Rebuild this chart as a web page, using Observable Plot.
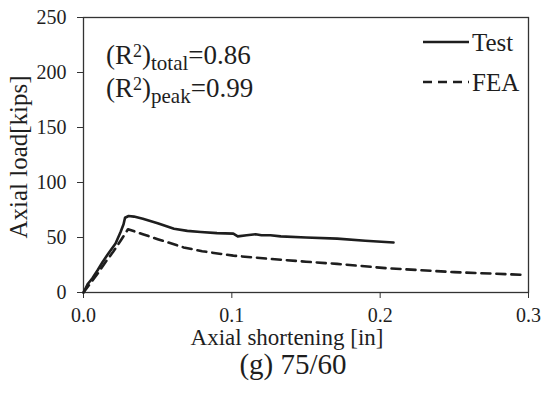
<!DOCTYPE html>
<html>
<head>
<meta charset="utf-8">
<script src="https://cdn.jsdelivr.net/npm/d3@7"></script>
<script src="https://cdn.jsdelivr.net/npm/@observablehq/plot@0.6"></script>
<style>
  html, body { margin: 0; padding: 0; background: #fff; }
  #chart { position: relative; width: 543px; height: 396px; }
</style>
</head>
<body>
<div id="chart"></div>
<script>
// Test curve (axial shortening [in], axial load [kips])
const testX = [0, 0.003, 0.006, 0.0094, 0.013, 0.017, 0.0216, 0.025, 0.027, 0.028, 0.0304, 0.034, 0.04, 0.05, 0.061, 0.07, 0.079, 0.09, 0.101, 0.104, 0.11, 0.116, 0.12, 0.126, 0.133, 0.15, 0.171, 0.19, 0.209];
const testY = [0, 8, 13, 20, 28, 36, 44.5, 55, 62, 68, 69.5, 69, 67, 63, 58, 56, 55, 54, 53.5, 51, 52, 53, 52, 52, 51, 50, 49, 47, 45.5];
// FEA curve
const feaX = [0, 0.005, 0.01, 0.015, 0.02, 0.025, 0.03, 0.04, 0.05, 0.0675, 0.08, 0.101, 0.126, 0.15, 0.171, 0.205, 0.25, 0.298];
const feaY = [0, 9, 18, 28, 37, 47, 57.5, 53, 48.5, 41, 37.5, 33.5, 30.5, 28, 26, 22, 18.5, 16];
// Ticks
const xTicks = [0, 0.1, 0.2, 0.3];
const yTicks = [0, 50, 100, 150, 200, 250];
const seriesNames = ["Test", "FEA"];
const r2Total = "0.86";
const r2Peak = "0.99";
const xLabel = "Axial shortening [in]";
const yLabel = "Axial load[kips]";
const caption = "(g) 75/60";

const test = testX.map((x, i) => ({x, y: testY[i]}));
const fea = feaX.map((x, i) => ({x, y: feaY[i]}));

const ink = "#1e1e1e";
const serif = "'Liberation Serif', 'DejaVu Serif', serif";

const plot = Plot.plot({
  width: 543,
  height: 396,
  marginLeft: 83,
  marginRight: 15,
  marginTop: 17,
  marginBottom: 104,
  style: {fontFamily: serif, color: ink, background: "#fff"},
  x: {domain: [0, 0.3]},
  y: {domain: [0, 250]},
  marks: [
    Plot.frame({stroke: "#333", strokeWidth: 1.3}),
    Plot.axisX({ticks: xTicks, tickFormat: d3.format(".1f"), tickSize: 6, tickPadding: 9, fontSize: 20, label: null, stroke: "#333"}),
    Plot.axisY({ticks: yTicks, tickFormat: d3.format("d"), tickSize: 6, tickPadding: 11, fontSize: 20, label: null, stroke: "#333"}),
    Plot.line(fea, {x: "x", y: "y", stroke: ink, strokeWidth: 2.6, strokeDasharray: "9,6"}),
    Plot.line(test, {x: "x", y: "y", stroke: ink, strokeWidth: 2.6}),
    Plot.text([xLabel], {text: d => d, frameAnchor: "bottom", textAnchor: "middle", dx: -19, dy: 52, fontSize: 23, fill: ink}),
    Plot.text([caption], {text: d => d, frameAnchor: "bottom", textAnchor: "middle", dx: -13, dy: 81, fontSize: 29, fill: ink}),
    Plot.text([yLabel], {text: d => d, frameAnchor: "left", textAnchor: "middle", dx: -65, dy: 2, rotate: -90, fontSize: 25, fill: ink})
  ]
});
document.getElementById("chart").appendChild(plot);

// Annotations and legend drawn into the same SVG
const svg = d3.select(plot);
const g = svg.append("g")
  .attr("fill", ink)
  .attr("font-family", serif)
  .attr("text-anchor", "start");

function r2Line(y, sub, val) {
  const t = g.append("text").attr("x", 106).attr("y", y)
    .attr("font-size", 27).attr("font-family", serif).attr("text-anchor", "start");
  t.append("tspan").text("(R");
  t.append("tspan").attr("font-size", 18).attr("dy", -7).text("2");
  t.append("tspan").attr("dy", 7).text(")");
  t.append("tspan").attr("font-size", 21).attr("dy", 6).text(sub);
  t.append("tspan").attr("dy", -6).text("=" + val);
}
r2Line(64, "total", r2Total);
r2Line(97, "peak", r2Peak);

const legY = [42, 82];
seriesNames.forEach((name, i) => {
  g.append("line").attr("x1", 423).attr("x2", 469).attr("y1", legY[i]).attr("y2", legY[i])
    .attr("stroke", ink).attr("stroke-width", 2.6)
    .attr("stroke-dasharray", i === 1 ? "9,6" : null);
  g.append("text").attr("x", 472).attr("y", legY[i] + 9)
    .attr("font-size", 25).attr("font-family", serif).attr("text-anchor", "start").text(name);
});
</script>
</body>
</html>
